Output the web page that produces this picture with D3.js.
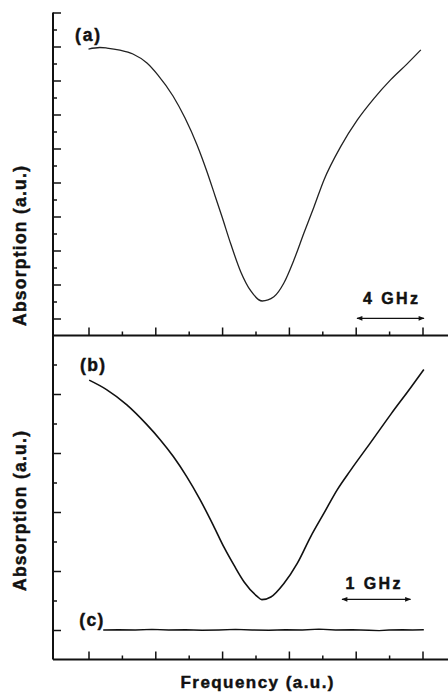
<!DOCTYPE html>
<html><head><meta charset="utf-8">
<script src="https://cdn.jsdelivr.net/npm/d3@7/dist/d3.min.js"></script>
<style>body{margin:0;background:#fff}svg{display:block}text{font-family:"Liberation Sans",Arial,Helvetica,sans-serif;font-weight:bold;fill:#111;stroke:#111;stroke-width:0.45px}</style>
</head><body><div id="chart"></div>
<script>
// Frequency positions (a.u., tick units) and absorption values (a.u., tick units)
const freqA = [0.0,0.34,0.55,0.94,1.33,1.75,2.08,2.53,2.89,3.25,3.55,3.79,4.00,4.26,4.56,4.86,5.20,5.55,5.85,6.15,6.45,6.75,7.05,7.55,8.05,8.55,9.05,9.54,9.95];
const absA  = [16.85,16.94,16.91,16.79,16.56,16.03,15.32,14.09,12.79,11.21,9.62,8.21,6.97,5.38,3.74,2.62,2.03,2.28,3.09,4.44,6.03,7.56,9.15,11.11,12.68,13.95,15.05,15.98,16.8];
const freqB = [0.02,0.54,1.14,1.74,2.14,2.54,2.94,3.34,3.74,4.06,4.36,4.66,5.05,5.19,5.46,5.85,6.25,6.65,7.05,7.45,7.85,8.45,9.05,9.65,10.04];
const absB  = [9.47,9.15,8.64,7.97,7.46,6.88,6.20,5.42,4.54,3.80,3.19,2.63,2.14,2.03,2.12,2.58,3.26,4.16,4.96,5.76,6.42,7.36,8.31,9.22,9.83];
const freqC = [0.44,0.9,1.4,1.9,2.4,2.9,3.4,3.9,4.4,4.9,5.4,5.9,6.4,6.9,7.4,7.9,8.4,8.7,9.0,9.4,9.7,10.04];
const absC  = [1.00,1.01,1.00,1.02,1.00,1.01,0.99,1.00,1.02,1.00,0.99,1.01,1.00,1.03,1.00,1.01,0.99,0.98,1.00,1.01,1.00,1.01];
const xTicksMajor = [0,2,4,6,8,10];
const xTicksMinor = [1,3,5,7,9];
const yATicksMajor = [1,3,5,7,9,11,13,15,17,19];
const yATicksMinor = [2,4,6,8,10,12,14,16,18];
const yBTicksMajor = [1,3,5,7,9];
const yBTicksMinor = [2,4,6,8,10];
const panelLabels = ["(a)","(b)","(c)"];
const scaleLabels = ["4 GHz","1 GHz"];
const yTitle = "Absorption (a.u.)";
const xTitle = "Frequency (a.u.)";

const W=448,H=695;
const svg=d3.select("#chart").append("svg").attr("width",W).attr("height",H);
const x=d3.scaleLinear().domain([0,10]).range([88.5,422.5]);
const yA=d3.scaleLinear().domain([0,19]).range([335.5,12.5]);
const yB=d3.scaleLinear().domain([0,11]).range([659.5,335]);
const xLo=x.invert(53), xHi=x.invert(448);

const defs=svg.append("defs");
defs.append("marker").attr("id","ah").attr("viewBox","0 0 10 10").attr("refX",9).attr("refY",5)
 .attr("markerWidth",8).attr("markerHeight",6).attr("markerUnits","userSpaceOnUse").attr("orient","auto-start-reverse")
 .append("path").attr("d","M0,1 L10,5 L0,9 Z").attr("fill","#111");

// axis frame lines
const ax=svg.append("g").attr("stroke","#111").attr("stroke-width",2).attr("fill","none");
ax.append("line").attr("x1",x(xLo)).attr("x2",x(xLo)).attr("y1",yA(19)).attr("y2",yB(0));
ax.append("line").attr("x1",x(xLo)).attr("x2",x(xHi)).attr("y1",yA(0)).attr("y2",yA(0));
ax.append("line").attr("x1",x(xLo)).attr("x2",x(xHi)).attr("y1",yB(0)).attr("y2",yB(0));

function ticks(axis,transform){
  const g=svg.append("g").attr("transform",transform).call(axis);
  g.select(".domain").remove();
  g.selectAll(".tick line").attr("stroke","#111").attr("stroke-width",1.5);
  g.selectAll(".tick text").remove();
}
const xl=x(xLo);
ticks(d3.axisRight(yA).tickValues(yATicksMajor).tickSize(8).tickFormat(""),`translate(${xl},0)`);
ticks(d3.axisRight(yA).tickValues(yATicksMinor).tickSize(4).tickFormat(""),`translate(${xl},0)`);
ticks(d3.axisRight(yB).tickValues(yBTicksMajor).tickSize(8).tickFormat(""),`translate(${xl},0)`);
ticks(d3.axisRight(yB).tickValues(yBTicksMinor).tickSize(4).tickFormat(""),`translate(${xl},0)`);
ticks(d3.axisTop(x).tickValues(xTicksMajor).tickSize(8).tickFormat(""),`translate(0,${yA(0)})`);
ticks(d3.axisTop(x).tickValues(xTicksMinor).tickSize(4).tickFormat(""),`translate(0,${yA(0)})`);
ticks(d3.axisTop(x).tickValues(xTicksMajor).tickSize(8).tickFormat(""),`translate(0,${yB(0)})`);
ticks(d3.axisTop(x).tickValues(xTicksMinor).tickSize(4).tickFormat(""),`translate(0,${yB(0)})`);

// curves
const lineA=d3.line().x((d,i)=>x(freqA[i])).y(d=>yA(d)).curve(d3.curveMonotoneX);
const lineB=d3.line().x((d,i)=>x(freqB[i])).y(d=>yB(d)).curve(d3.curveMonotoneX);
const lineC=d3.line().x((d,i)=>x(freqC[i])).y(d=>yB(d)).curve(d3.curveLinear);
svg.append("path").attr("d",lineA(absA)).attr("fill","none").attr("stroke","#222").attr("stroke-width",1.3);
svg.append("path").attr("d",lineB(absB)).attr("fill","none").attr("stroke","#111").attr("stroke-width",1.6);
svg.append("path").attr("d",lineC(absC)).attr("fill","none").attr("stroke","#111").attr("stroke-width",1.4);

// panel labels
svg.append("text").attr("x",87.5).attr("y",40.5).attr("text-anchor","middle").attr("font-size",17.5).attr("textLength",25).text(panelLabels[0]);
svg.append("text").attr("x",92.5).attr("y",370.5).attr("text-anchor","middle").attr("font-size",17.5).attr("textLength",25).text(panelLabels[1]);
svg.append("text").attr("x",91.3).attr("y",625.5).attr("text-anchor","middle").attr("font-size",17.5).attr("textLength",24).text(panelLabels[2]);

// scale bars
svg.append("text").attr("x",390.5).attr("y",303.5).attr("text-anchor","middle").attr("font-size",16).attr("textLength",55).text(scaleLabels[0]);
svg.append("line").attr("x1",357).attr("x2",424).attr("y1",318.3).attr("y2",318.3).attr("stroke","#111").attr("stroke-width",1.3)
  .attr("marker-start","url(#ah)").attr("marker-end","url(#ah)");
svg.append("text").attr("x",373).attr("y",588.5).attr("text-anchor","middle").attr("font-size",16).attr("textLength",55).text(scaleLabels[1]);
svg.append("line").attr("x1",342).attr("x2",410.5).attr("y1",599.3).attr("y2",599.3).attr("stroke","#111").attr("stroke-width",1.3)
  .attr("marker-start","url(#ah)").attr("marker-end","url(#ah)");

// axis titles
svg.append("text").attr("transform","translate(25.5,246) rotate(-90)").attr("text-anchor","middle").attr("font-size",17.5).attr("textLength",160).text(yTitle);
svg.append("text").attr("transform","translate(25.5,511) rotate(-90)").attr("text-anchor","middle").attr("font-size",17.5).attr("textLength",160).text(yTitle);
svg.append("text").attr("x",257).attr("y",688).attr("text-anchor","middle").attr("font-size",17).attr("textLength",153).text(xTitle);
</script></body></html>
